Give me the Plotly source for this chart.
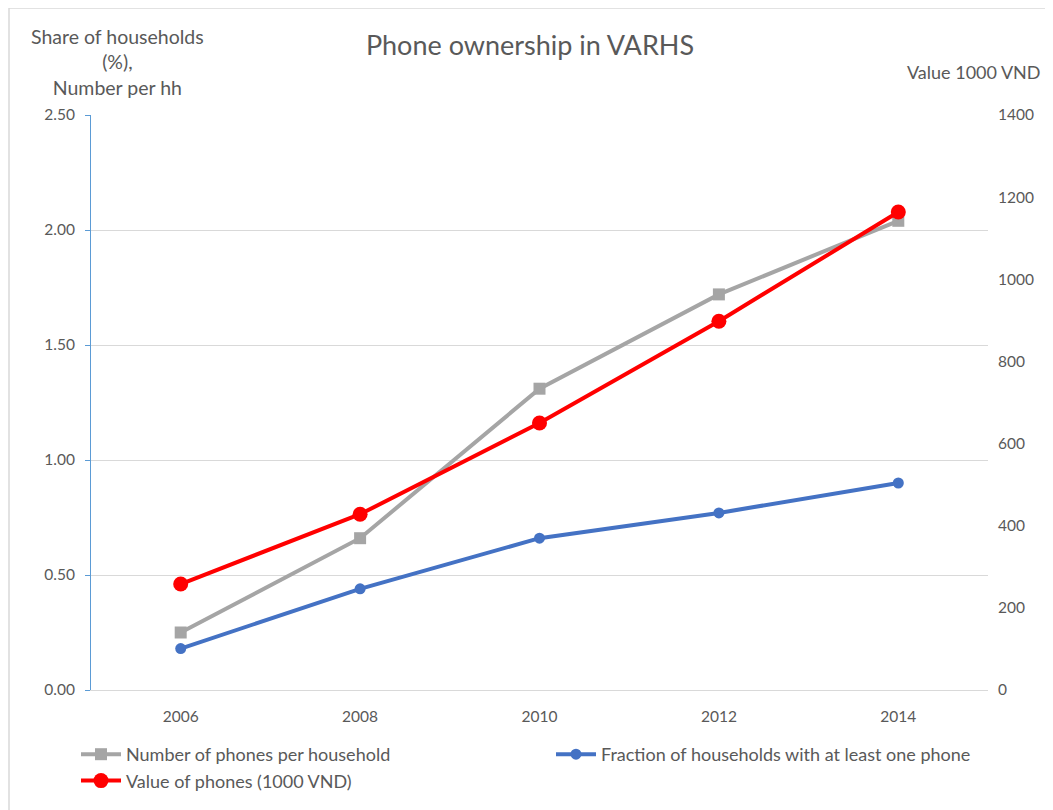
import plotly.graph_objects as go

years = [2006, 2008, 2010, 2012, 2014]
phones_per_hh = [0.25, 0.66, 1.31, 1.72, 2.04]
share_with_phone = [0.18, 0.44, 0.66, 0.77, 0.90]
phone_value = [258, 428, 650, 898, 1164]

FONT = 'Lato, Open Sans, sans-serif'
TXT = '#595959'

# plot area in pixels: 897 wide, 575 tall
PW, PH = 897, 575

fig = go.Figure()

fig.add_trace(go.Scatter(
    x=years, y=phones_per_hh, name='Number of phones per household',
    mode='lines+markers',
    line=dict(color='#A5A5A5', width=4),
    marker=dict(symbol='square', size=12, color='#A5A5A5'),
    legend='legend'
))
fig.add_trace(go.Scatter(
    x=years, y=share_with_phone, name='Fraction of households with at least one phone',
    mode='lines+markers',
    line=dict(color='#4472C4', width=4),
    marker=dict(symbol='circle', size=11, color='#4472C4'),
    legend='legend2'
))
fig.add_trace(go.Scatter(
    x=years, y=phone_value, name='Value of phones (1000 VND)',
    mode='lines+markers', yaxis='y2',
    line=dict(color='#FF0000', width=4),
    marker=dict(symbol='circle', size=15, color='#FF0000'),
    legend='legend'
))

legend_style = dict(
    yanchor='top', xanchor='left',
    font=dict(family=FONT, size=18, color=TXT),
    bgcolor='rgba(0,0,0,0)', itemwidth=40, tracegroupgap=6
)

fig.update_layout(
    width=1045, height=802,
    paper_bgcolor='white', plot_bgcolor='white',
    margin=dict(l=83, r=65, t=107, b=120, autoexpand=False),
    font=dict(family=FONT, size=15, color=TXT),
    title=dict(text='Phone ownership in VARHS', x=(530 - 8) / 1045, xanchor='center',
               y=1 - 38 / 802, yanchor='middle',
               font=dict(family=FONT, size=27, color=TXT)),
    xaxis=dict(range=[2005, 2015], tickvals=years, ticks='',
               showgrid=False, zeroline=False,
               showline=True, linecolor='#D9D9D9', linewidth=1,
               ticklabelstandoff=12,
               tickfont=dict(size=15.5, color=TXT)),
    yaxis=dict(range=[0, 2.5], dtick=0.5, tickformat='.2f',
               showgrid=True, gridcolor='#D9D9D9', zeroline=False,
               showline=True, linecolor='#5B9BD5', linewidth=1,
               ticks='outside', ticklen=5, tickcolor='#5B9BD5',
               ticklabelstandoff=7,
               tickfont=dict(size=15.5, color=TXT)),
    yaxis2=dict(range=[0, 1400], dtick=200, overlaying='y', side='right',
                showgrid=False, zeroline=False, showline=False,
                ticks='outside', ticklen=6, tickcolor='rgba(0,0,0,0)',
                tickfont=dict(size=15.5, color=TXT)),
    legend=dict(x=-15 / PW, y=-46 / PH, **legend_style),
    legend2=dict(x=460 / PW, y=-46 / PH, **legend_style),
    shapes=[dict(type='rect', xref='paper', yref='paper',
                 x0=-82 / PW, x1=958 / PW, y0=-140 / PH, y1=682 / PH,
                 line=dict(color='#D9D9D9', width=1.5), layer='below')],
    annotations=[
        dict(text='Share of households<br>(%),<br>Number per hh',
             xref='paper', yref='paper', x=26 / PW, y=1 + 53 / PH,
             xanchor='center', yanchor='middle', showarrow=False, align='center',
             font=dict(family=FONT, size=19.5, color=TXT)),
        dict(text='Value 1000 VND',
             xref='paper', yref='paper', x=1 + 55 / PW, y=1 + 43 / PH,
             xanchor='right', yanchor='middle', showarrow=False,
             font=dict(family=FONT, size=18, color=TXT)),
    ],
)

fig.write_html('out.html')
